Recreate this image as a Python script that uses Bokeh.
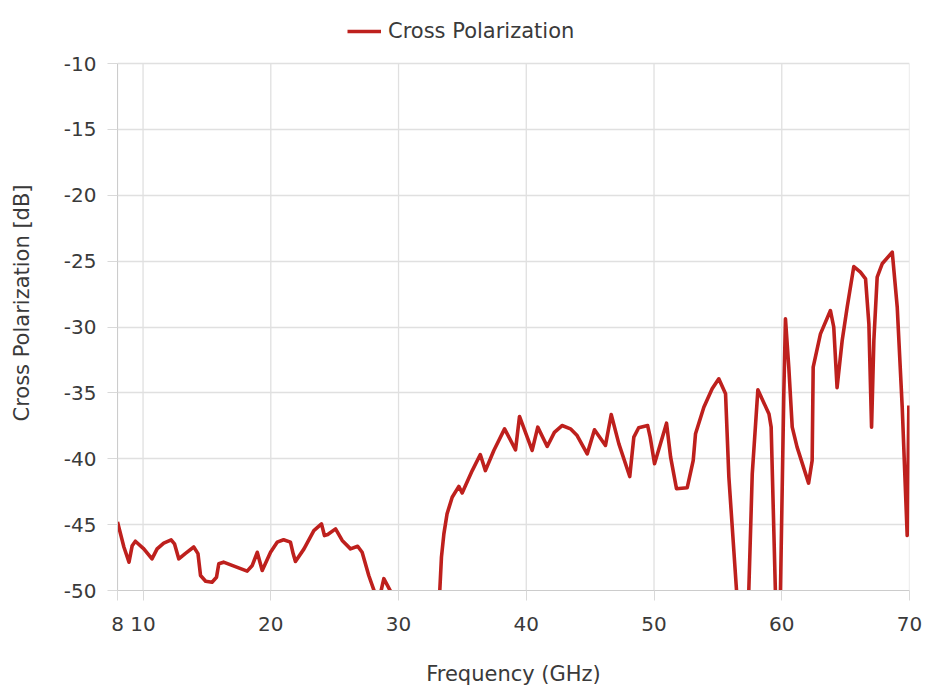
from bokeh.plotting import figure
from bokeh.models import FixedTicker, Legend, LegendItem, Range1d
from bokeh.embed import file_html
from bokeh.resources import INLINE

freq = [8.0, 8.5, 8.9, 9.15, 9.4, 10.06, 10.7, 11.1, 11.62, 12.2, 12.46, 12.8,
        13.3, 13.97, 14.3, 14.5, 14.9, 15.4, 15.75, 15.93, 16.3, 18.15, 18.55,
        18.94, 19.33, 19.98, 20.5, 21.0, 21.54, 21.75, 21.93, 22.6, 23.37,
        23.97, 24.2, 24.46, 25.07, 25.59, 26.24, 26.8, 27.15, 27.67, 28.1,
        28.45, 28.85, 29.37, 30.5, 32.0, 33.23, 33.36, 33.55, 33.8, 34.2,
        34.72, 34.98, 35.77, 36.4, 36.8, 37.46, 38.3, 39.16, 39.47, 40.46,
        40.9, 41.64, 42.2, 42.8, 43.46, 43.98, 44.77, 45.34, 46.2, 46.65,
        47.25, 48.1, 48.42, 48.8, 49.5, 49.7, 50.04, 50.98, 51.3, 51.76, 52.6,
        53.07, 53.25, 53.9, 54.55, 55.07, 55.6, 55.86, 56.46, 56.9, 57.42,
        57.69, 58.13, 59.0, 59.17, 59.5, 59.7, 59.9, 60.16, 60.29, 60.55,
        60.82, 61.2, 62.1, 62.38, 62.46, 63.03, 63.81, 64.07, 64.33, 64.73,
        65.12, 65.64, 66.16, 66.56, 66.82, 67.03, 67.21, 67.47, 67.86, 68.65,
        69.04, 69.43, 69.82, 69.95]
xpol = [-44.8, -46.7, -47.85, -46.6, -46.26, -46.84, -47.6, -46.84, -46.4,
        -46.15, -46.46, -47.6, -47.2, -46.7, -47.2, -48.86, -49.3, -49.37,
        -48.99, -47.97, -47.85, -48.53, -48.1, -47.1, -48.48, -47.09, -46.33,
        -46.15, -46.33, -47.2, -47.8, -46.84, -45.45, -44.94, -45.83, -45.75,
        -45.32, -46.2, -46.84, -46.64, -47.1, -48.86, -50.05, -50.8, -49.1,
        -50.05, -54.0, -55.0, -50.0, -47.47, -45.7, -44.18, -42.92, -42.1,
        -42.6, -40.9, -39.68, -40.9, -39.37, -37.73, -39.32, -36.79, -39.37,
        -37.6, -39.07, -38.0, -37.48, -37.73, -38.24, -39.63, -37.8, -38.99,
        -36.64, -38.87, -41.35, -38.36, -37.65, -37.48, -38.36, -40.38, -37.3,
        -39.88, -42.28, -42.2, -40.13, -38.1, -36.09, -34.69, -33.93, -35.07,
        -41.4, -50.0, -54.0, -50.0, -41.15, -34.77, -36.6, -37.6, -50.0,
        -52.0, -50.0, -35.07, -29.38, -33.05, -37.6, -39.12, -41.85, -40.13,
        -33.05, -30.52, -28.75, -30.0, -34.6, -31.02, -28.5, -25.41, -25.84,
        -26.34, -29.76, -37.6, -31.02, -26.22, -25.2, -24.32, -28.5, -36.09,
        -45.83, -35.96]

x_ticks = [8, 10, 20, 30, 40, 50, 60, 70]
y_ticks = [-50, -45, -40, -35, -30, -25, -20, -15, -10]
y_min, y_max = -50, -10

FONT = "DejaVu Sans"
TXT = "#3a3a3a"
RED = "#be201d"
GRID = "#e0e0e0"

p = figure(frame_width=792, frame_height=575, output_backend="svg",
           toolbar_location=None,
           x_range=Range1d(8, 70), y_range=Range1d(y_min, y_max + 48 / 13.175),
           min_border_left=117, min_border_right=13, min_border_top=15,
           min_border_bottom=100)
p.outline_line_color = None

# vertical grid lines limited to the data range of the y axis
p.segment(x0=x_ticks, x1=x_ticks, y0=[y_min] * len(x_ticks),
          y1=[y_max] * len(x_ticks), line_color=GRID, line_width=1.3)
p.xgrid.visible = False

r = p.line(freq, xpol, line_color=RED, line_width=3.6, line_join="round")

for ax in (p.xaxis[0], p.yaxis[0]):
    ax.major_label_text_font = FONT
    ax.major_label_text_font_size = "20px"
    ax.major_label_text_color = TXT
    ax.axis_label_text_font = FONT
    ax.axis_label_text_font_size = "21px"
    ax.axis_label_text_font_style = "normal"
    ax.axis_label_text_color = TXT
    ax.axis_line_color = "#cccccc"
    ax.major_tick_line_color = "#d9d9d9"
    ax.major_tick_out = 10
    ax.major_tick_in = 0
    ax.minor_tick_line_color = None

p.yaxis[0].bounds = (y_min, y_max)
p.xaxis[0].ticker = FixedTicker(ticks=x_ticks)
p.yaxis[0].ticker = FixedTicker(ticks=y_ticks)
p.yaxis[0].major_label_overrides = {t: str(t) for t in y_ticks}
p.xaxis[0].axis_label = "Frequency (GHz)"
p.yaxis[0].axis_label = "Cross Polarization [dB]"
p.xaxis[0].major_label_standoff = 16
p.xaxis[0].axis_label_standoff = 28
p.yaxis[0].major_label_standoff = 11
p.yaxis[0].axis_label_standoff = 27

p.ygrid.ticker = FixedTicker(ticks=y_ticks)
p.ygrid.grid_line_color = GRID
p.ygrid.grid_line_width = 1.3

legend = Legend(items=[LegendItem(label="Cross Polarization", renderers=[r])],
                orientation="horizontal", location=(230, 547),
                label_text_font=FONT, label_text_font_size="21px",
                label_text_color=TXT, border_line_color=None,
                background_fill_alpha=0, glyph_width=34, glyph_height=20,
                label_standoff=7, padding=4, margin=0)
p.add_layout(legend)

open("out.html", "w").write(file_html(p, INLINE))
